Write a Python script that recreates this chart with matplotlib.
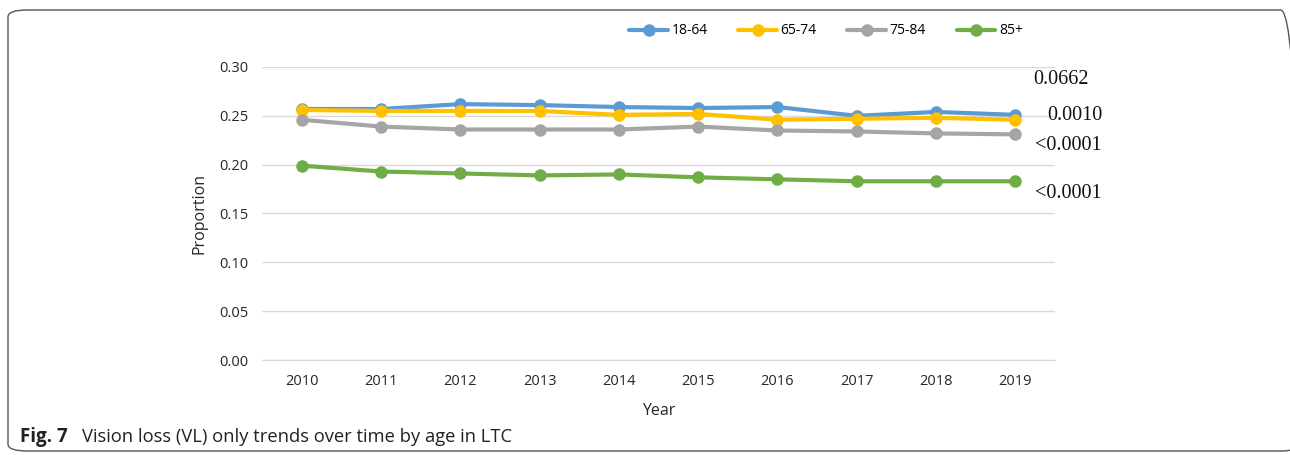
import matplotlib
matplotlib.use("Agg")
import matplotlib.pyplot as plt
from matplotlib.patches import FancyBboxPatch

years = [2010, 2011, 2012, 2013, 2014, 2015, 2016, 2017, 2018, 2019]
age_18_64 = [0.257, 0.257, 0.262, 0.261, 0.259, 0.258, 0.259, 0.250, 0.254, 0.251]
age_65_74 = [0.256, 0.255, 0.255, 0.255, 0.251, 0.252, 0.246, 0.247, 0.248, 0.246]
age_75_84 = [0.246, 0.239, 0.236, 0.236, 0.236, 0.239, 0.235, 0.234, 0.232, 0.231]
age_85p = [0.199, 0.193, 0.191, 0.189, 0.190, 0.187, 0.185, 0.183, 0.183, 0.183]
series_labels = ["18-64", "65-74", "75-84", "85+"]
colors = ["#5B9BD5", "#FFC000", "#A5A5A5", "#70AD47"]
pvalues = ["0.0662", "0.0010", "<0.0001", "<0.0001"]
yticks = [0.00, 0.05, 0.10, 0.15, 0.20, 0.25, 0.30]

plt.rcParams['font.family'] = ['Open Sans', 'DejaVu Sans']

fig = plt.figure(figsize=(12.9, 4.55), dpi=100)
ax = fig.add_axes([262/1290, 1-360/455, (1055-262)/1290, (360-67)/455])

xs = list(range(len(years)))
for vals, lab, c in zip([age_18_64, age_65_74, age_75_84, age_85p], series_labels, colors):
    ax.plot(xs, vals, color=c, lw=3, marker='o', ms=8, label=lab, solid_capstyle='round')

ax.set_xlim(-0.5, len(years) - 0.5)
ax.set_ylim(0, 0.30)
ax.set_yticks(yticks)
ax.set_yticklabels([f"{v:.2f}" for v in yticks], fontsize=10.5)
ax.set_xticks(xs)
ax.set_xticklabels([str(y) for y in years], fontsize=10.5)
ax.grid(axis='y', color='#D9D9D9', lw=1)
ax.set_axisbelow(True)
for s in ['top', 'right', 'left']:
    ax.spines[s].set_visible(False)
ax.spines['bottom'].set_color('#D9D9D9')
ax.tick_params(axis='y', length=0, pad=10, colors='#262626')
ax.tick_params(axis='x', length=0, pad=10, colors='#262626')
ax.set_xlabel("Year", fontsize=11.5, color='#262626', labelpad=10)
ax.set_ylabel("Proportion", fontsize=11.5, color='#262626', labelpad=8)

leg = fig.legend(loc='center', bbox_to_anchor=(826/1290, 1-31/455), ncol=4, frameon=False,
                 fontsize=10, handlelength=2.8, columnspacing=2.2, handletextpad=0.25)

# p-value annotations
ann_pos = [(1033, 80), (1047, 116), (1035, 146), (1035, 193)]
for txt, (px, py) in zip(pvalues, ann_pos):
    fig.text(px/1290, 1-py/455, txt, fontsize=14.5, family='Liberation Serif',
             ha='left', va='center', color='#111111')

# caption
fig.text(20/1290, 1-437/455, "Fig. 7", fontsize=13.5, fontweight='bold', ha='left', va='center',
         color='#222222')
fig.text(82/1290, 1-437/455, "Vision loss (VL) only trends over time by age in LTC", fontsize=13.2,
         ha='left', va='center', color='#222222')

# frame
frame = FancyBboxPatch((8/1290, 1-451/455), (1300-8)/1290, (451-10)/455,
                       boxstyle="round,pad=0,rounding_size=0.015", transform=fig.transFigure,
                       fill=False, ec='#555555', lw=1, clip_on=False)
fig.patches.append(frame)

fig.savefig("out.png", dpi=100)
